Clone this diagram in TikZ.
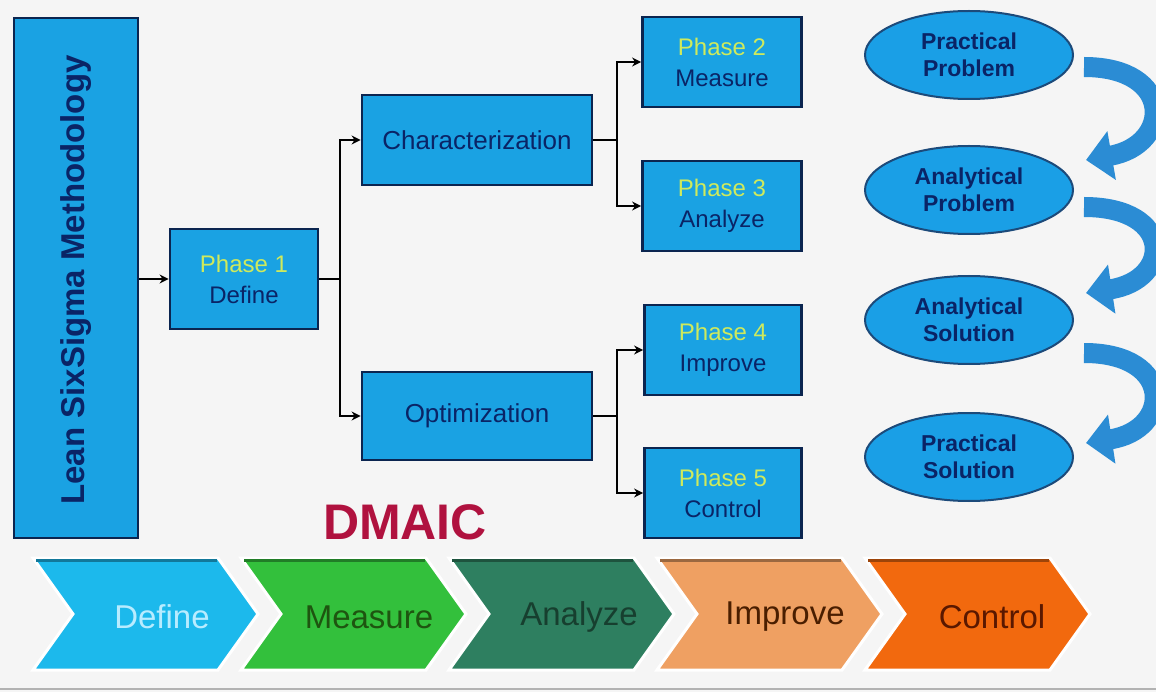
\documentclass[tikz,border=0pt]{standalone}
\usepackage{fontspec}
\setmainfont{Liberation Sans}
\usetikzlibrary{arrows.meta,shapes.geometric}
\definecolor{bg}{HTML}{F5F5F5}
\definecolor{boxfill}{HTML}{1AA2E3}
\definecolor{boxline}{HTML}{0B2550}
\definecolor{navy}{HTML}{0A2466}
\definecolor{phasecol}{HTML}{CFEA5C}
\definecolor{ellfill}{HTML}{1A9FE6}
\definecolor{ellline}{HTML}{1C4A7A}
\definecolor{curvecol}{HTML}{2B8CD4}
\definecolor{dmaiccol}{HTML}{B0123F}
\definecolor{cdef}{HTML}{1CB9EC}
\definecolor{cmea}{HTML}{33C03C}
\definecolor{cana}{HTML}{2E7F60}
\definecolor{cimp}{HTML}{EFA062}
\definecolor{ccon}{HTML}{F2690E}
\definecolor{tdef}{HTML}{B8ECFF}
\definecolor{tmea}{HTML}{1E5510}
\definecolor{tana}{HTML}{173F2F}
\definecolor{timp}{HTML}{4A1E00}
\definecolor{tcon}{HTML}{5A1800}
\begin{document}
\begin{tikzpicture}[x=1pt,y=-1pt,
  bluebox/.style={draw=boxline, line width=2.8pt, fill=boxfill, inner sep=0pt, align=center, text=navy},
  ellbox/.style={ellipse, draw=ellline, line width=2pt, fill=ellfill, inner sep=0pt, minimum width=208pt, minimum height=88pt, align=center, text=navy, font=\fontsize{23}{27}\selectfont\bfseries},
  conn/.style={line width=2.2pt, black},
  arr/.style={conn, -{Stealth[length=9pt,width=9pt]}},
  bigcurve/.style={line width=20pt, curvecol, -{Triangle[width=48pt,length=26pt]}},
  chevlabel/.style={font=\fontsize{33}{36}\selectfont}
]
\fill[bg] (0,0) rectangle (1156,692);
\useasboundingbox (0,0) rectangle (1156,692);

% left column and tree
\node[bluebox, minimum width=124pt, minimum height=520pt] (lssm) at (76,278) {};
\node[rotate=90, font=\fontsize{33}{36}\selectfont\bfseries, text=navy] (lssmtext) at (76,280) {Lean SixSigma Methodology};
\node[bluebox, minimum width=148pt, minimum height=100pt, font=\fontsize{24}{31}\selectfont] (p1) at (244,279) {\textcolor{phasecol}{Phase 1}\\Define};
\node[bluebox, minimum width=230pt, minimum height=90pt, font=\fontsize{26}{30}\selectfont] (char) at (477,140) {Characterization};
\node[bluebox, minimum width=230pt, minimum height=88pt, font=\fontsize{26}{30}\selectfont] (opt) at (477,416) {Optimization};
\node[bluebox, minimum width=159pt, minimum height=90pt, font=\fontsize{24}{31}\selectfont] (p2) at (722,62) {\textcolor{phasecol}{Phase 2}\\Measure};
\node[bluebox, minimum width=159pt, minimum height=90pt, font=\fontsize{24}{31}\selectfont] (p3) at (722,206) {\textcolor{phasecol}{Phase 3}\\Analyze};
\node[bluebox, minimum width=157pt, minimum height=90pt, font=\fontsize{24}{31}\selectfont] (p4) at (723,350) {\textcolor{phasecol}{Phase 4}\\Improve};
\node[bluebox, minimum width=157pt, minimum height=90pt, font=\fontsize{24}{31}\selectfont] (p5) at (723,493) {\textcolor{phasecol}{Phase 5}\\Control};

\draw[arr] (p1.west -| lssm.east) -- (p1.west);
\coordinate (j1) at (340,279);
\coordinate (j2) at (617,140);
\coordinate (j3) at (617,416);
\draw[conn] (p1.east) -- (j1);
\draw[arr] (j1) |- (char.west);
\draw[arr] (j1) |- (opt.west);
\draw[conn] (char.east) -- (j2);
\draw[arr] (j2) |- (p2.west);
\draw[arr] (j2) |- (p3.west);
\draw[conn] (opt.east) -- (j3);
\draw[arr] (j3) |- (p4.west);
\draw[arr] (j3) |- (p5.west);

% ellipses
\node[ellbox] (e1) at (969,55) {Practical\\Problem};
\node[ellbox] (e2) at (969,190) {Analytical\\Problem};
\node[ellbox] (e3) at (969,320) {Analytical\\Solution};
\node[ellbox] (e4) at (969,457) {Practical\\Solution};

\coordinate (a1s) at (1084,67);
\coordinate (a1e) at (1086,160);
\coordinate (a2s) at (1084,207);
\coordinate (a2e) at (1086,293);
\coordinate (a3s) at (1084,353);
\coordinate (a3e) at (1086,443);
\draw[bigcurve] (a1s) .. controls (1175,67) and (1172,145) .. (a1e);
\draw[bigcurve] (a2s) .. controls (1175,207) and (1172,280) .. (a2e);
\draw[bigcurve] (a3s) .. controls (1175,353) and (1172,430) .. (a3e);

% DMAIC title
\node[font=\fontsize{50}{54}\selectfont\bfseries, text=dmaiccol] (dmaic) at (405,522) {DMAIC};

% chevrons
\foreach \x/\c in {33/cdef,241/cmea,449/cana,657/cimp,865/ccon}{
  \filldraw[fill=\c, draw=white, line width=3pt]
    (\x,558) -- (\x+185,558) -- (\x+225,614) -- (\x+185,670) -- (\x,670) -- (\x+40,614) -- cycle;
  \draw[\c!65!black, line width=3pt] (\x+3,560) -- (\x+184,560);
}
\node[chevlabel, text=tdef] (cd) at (162,617) {Define};
\node[chevlabel, text=tmea] (cm) at (369,617) {Measure};
\node[chevlabel, text=tana] (ca) at (579,617) {Analyze};
\node[chevlabel, text=timp] (ci) at (785,617) {Improve};
\node[chevlabel, text=tcon] (cc) at (992,617) {Control};

\draw[gray!60, line width=1.5pt] (0,689) -- (1156,689);
\end{tikzpicture}
\end{document}
